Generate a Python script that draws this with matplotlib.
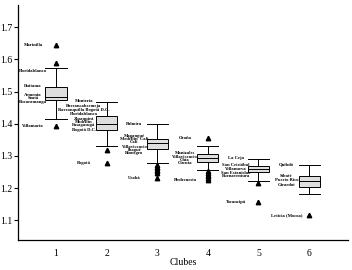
import matplotlib
matplotlib.use("Agg")
import matplotlib.pyplot as plt

plt.rcParams['font.family'] = ['Liberation Serif', 'DejaVu Serif']

clubes = [1, 2, 3, 4, 5, 6]
q1 = [1.475, 1.381, 1.321, 1.282, 1.250, 1.204]
mediana = [1.483, 1.400, 1.339, 1.295, 1.260, 1.223]
q3 = [1.513, 1.423, 1.352, 1.306, 1.270, 1.237]
bigote_sup = [1.574, 1.469, 1.400, 1.332, 1.290, 1.273]
bigote_inf = [1.416, 1.331, 1.277, 1.256, 1.222, 1.181]
atipicos = [
    [1.645, 1.590, 1.394],
    [1.318, 1.278],
    [1.272, 1.267, 1.262, 1.257, 1.252, 1.247, 1.232],
    [1.357, 1.252, 1.247, 1.242, 1.237, 1.232, 1.226],
    [1.217, 1.157],
    [1.116],
]

# etiquetas de municipios: (club, valor, nombre)
etiquetas = [
    (1, 1.645, "Marinilla"), (1, 1.565, "Floridablanca"), (1, 1.516, "Duitama"),
    (1, 1.488, "Armenia"), (1, 1.479, "Soatá"), (1, 1.468, "Bucaramanga"),
    (1, 1.393, "Villamaría"),
    (2, 1.472, "Montería"), (2, 1.454, "Barrancabermeja"),
    (2, 1.444, "Barranquilla Bogotá D.C."), (2, 1.431, "Floridablanca"),
    (2, 1.415, "Zipaquirá"), (2, 1.407, "Medellín"), (2, 1.395, "Fusagasugá"),
    (2, 1.381, "Bogotá D.C."), (2, 1.278, "Bogotá"),
    (3, 1.400, "Palmira"), (3, 1.362, "Magangué"), (3, 1.352, "Medellín  Cali"),
    (3, 1.342, "Cali"), (3, 1.329, "Villavicencio"), (3, 1.319, "Ibagué"),
    (3, 1.308, "Rionegro"), (3, 1.232, "Urabá"),
    (4, 1.357, "Ocaña"), (4, 1.308, "Manizales"), (4, 1.297, "Villavicencio"),
    (4, 1.288, "Chía"), (4, 1.277, "Cúcuta"), (4, 1.226, "Piedecuesta"),
    (5, 1.293, "La Ceja"), (5, 1.272, "San Cristóbal"), (5, 1.258, "Villanueva"),
    (5, 1.248, "San Estanislao"), (5, 1.237, "Buenaventura"), (5, 1.157, "Tocancipá"),
    (6, 1.273, "Quibdó"), (6, 1.237, "Sibaté"), (6, 1.225, "Puerto Rico"),
    (6, 1.209, "Girardot"), (6, 1.116, "Leticia (Mocoa)"),
]

stats = []
for i in range(len(clubes)):
    stats.append({'q1': q1[i], 'med': mediana[i], 'q3': q3[i],
                  'whislo': bigote_inf[i], 'whishi': bigote_sup[i],
                  'fliers': atipicos[i]})

fig = plt.figure(figsize=(3.52, 2.70), dpi=100)
ax = fig.add_axes([0.051, 0.11, 0.938, 0.871])

ax.bxp(stats, positions=clubes, widths=0.42, patch_artist=True,
       boxprops=dict(facecolor='#dedede', edgecolor='black', linewidth=0.7),
       medianprops=dict(color='black', linewidth=0.7),
       whiskerprops=dict(color='black', linewidth=0.7),
       capprops=dict(color='black', linewidth=0.7),
       capwidths=0.42,
       flierprops=dict(marker='^', markerfacecolor='black', markeredgecolor='black',
                       markersize=3.2, linestyle='none'))

for club, valor, nombre in etiquetas:
    ax.text(club - 0.45, valor, nombre, fontsize=3.3, ha='center', va='center',
            fontweight='bold')

ax.set_xlim(0.25, 6.77)
ax.set_ylim(1.0375, 1.769)
ax.set_yticks([1.1, 1.2, 1.3, 1.4, 1.5, 1.6, 1.7])
ax.set_yticklabels(['1.1', '1.2', '1.3', '1.4', '1.5', '1.6', '1.7'])
ax.set_xticks(clubes)
ax.tick_params(axis='y', labelsize=7, length=3, width=0.8, pad=1)
ax.tick_params(axis='x', labelsize=7, length=0, pad=6)
ax.set_xlabel('Clubes', fontsize=7, labelpad=0)

ax.spines['top'].set_visible(False)
ax.spines['right'].set_visible(False)
for s in ['left', 'bottom']:
    ax.spines[s].set_linewidth(0.9)

fig.savefig('out.png', dpi=100)
